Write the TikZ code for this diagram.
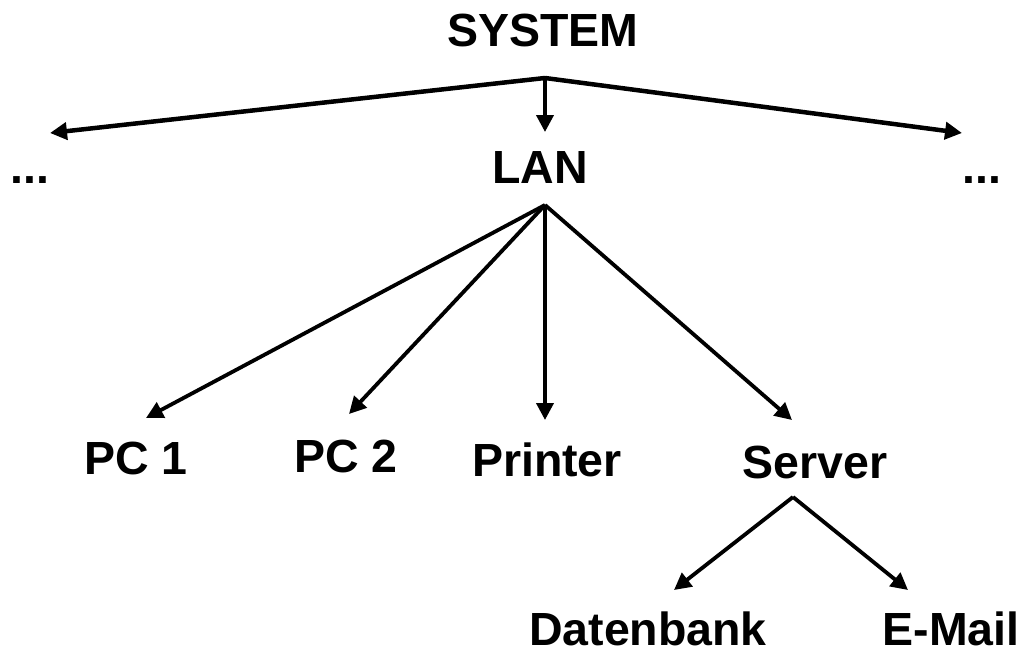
\documentclass[tikz,border=0pt]{standalone}
\usepackage{fontspec}
\setmainfont{Liberation Sans}
\usetikzlibrary{arrows.meta}
\begin{document}
\begin{tikzpicture}[x=1pt,y=-1pt,
  lbl/.style={anchor=base,inner sep=0pt,font=\fontsize{46.5}{56}\selectfont\bfseries},
  link/.style={line width=3.8pt,-{Triangle[length=17pt,width=17pt]}},
  trunk/.style={line width=4.5pt,-{Triangle[length=17pt,width=17pt]}}]
\useasboundingbox (0,0) rectangle (1026,653);
% labels
\node[lbl] (sys) at (543,46) {SYSTEM};
\node[lbl] (lan) at (540,183) {LAN};
\node[lbl] (dl) at (30,183) {...};
\node[lbl] (dr) at (982,183) {...};
\node[lbl] (pc1) at (136,474) {PC 1};
\node[lbl] (pc2) at (346,472) {PC 2};
\node[lbl] (prn) at (547,476) {Printer};
\node[lbl] (srv) at (815,478) {Server};
\node[lbl] (db) at (648,645) {Datenbank};
\node[lbl] (mail) at (951,645) {E-Mail};
% branch points
\coordinate (jsys) at (545,78);
\coordinate (jlan) at (545,205);
\coordinate (jsrv) at (793,497);
% arrow tips
\coordinate (tdl) at (50,133);
\coordinate (tdr) at (962,133);
\coordinate (tlan) at (545,132);
\coordinate (tpc1) at (146,418);
\coordinate (tpc2) at (349,414);
\coordinate (tprn) at (545,420);
\coordinate (tsrv) at (792,420);
\coordinate (tdb) at (674,590);
\coordinate (tmail) at (908,590);
% connectors
\draw[trunk] (jsys) -- (tdl);
\draw[trunk] (jsys) -- (tdr);
\draw[link] (jsys) -- (tlan);
\draw[link] (jlan) -- (tpc1);
\draw[link] (jlan) -- (tpc2);
\draw[link] (jlan) -- (tprn);
\draw[link] (jlan) -- (tsrv);
\draw[link] (jsrv) -- (tdb);
\draw[link] (jsrv) -- (tmail);
\end{tikzpicture}
\end{document}
